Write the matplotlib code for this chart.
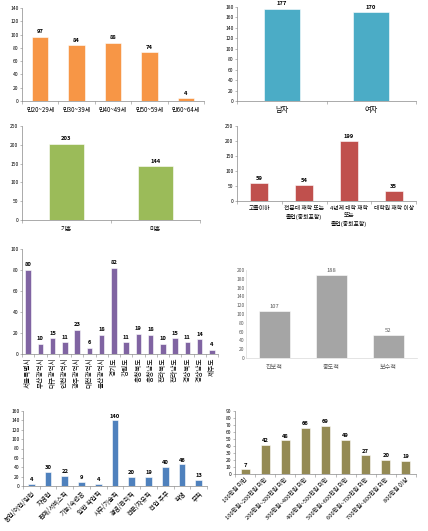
import matplotlib
matplotlib.use("Agg")
import matplotlib.pyplot as plt
import numpy as np

plt.rcParams['font.family'] = ['Noto Sans CJK KR', 'DejaVu Sans']

# Data
age_labels = ["만20~29세", "만30~39세", "만40~49세", "만50~59세", "만60~64세"]
age_values = [97, 84, 88, 74, 4]

sex_labels = ["남자", "여자"]
sex_values = [177, 170]

marriage_labels = ["기혼", "미혼"]
marriage_values = [203, 144]

edu_labels = ["고졸이하", "전문대 재학 또는\n졸업(중퇴포함)", "4년제 대학 재학\n또는\n졸업(중퇴포함)", "대학원 재학 이상"]
edu_values = [59, 54, 199, 35]

region_labels = ["서울특별시", "부산광역시", "대구광역시", "인천광역시", "광주광역시", "대전광역시",
                 "울산광역시", "경기도", "강원도", "충청북도", "충청남도", "전라북도", "전라남도",
                 "경상북도", "경상남도", "제주도"]
region_values = [80, 10, 15, 11, 23, 6, 18, 82, 11, 19, 18, 10, 15, 11, 14, 4]

ideology_labels = ["진보적", "중도적", "보수적"]
ideology_values = [107, 188, 52]

job_labels = ["농업/어업/임업", "자영업", "판매/서비스직", "기능/숙련공", "일반 작업직", "사무/기술직",
              "경영/관리직", "전문/자유직", "전업 주부", "학생", "무직"]
job_values = [4, 30, 22, 9, 4, 140, 20, 19, 40, 46, 13]

income_labels = ["100만원 미만", "100만원~200만원 미만", "200만원~300만원 미만", "300만원~400만원 미만",
                 "400만원~500만원 미만", "500만원~600만원 미만", "600만원~700만원 미만",
                 "700만원~800만원 미만", "800만원 이상"]
income_values = [7, 42, 48, 66, 69, 49, 27, 20, 19]

W, H = 428, 531
fig = plt.figure(figsize=(W / 100, H / 100), dpi=100)


def make_ax(left, top, right, bottom):
    return fig.add_axes([left / W, 1 - bottom / H, (right - left) / W, (bottom - top) / H])


def bar_panel(ax, labels, values, color, ymax, step, width=0.45, rotation=0, ha="center",
              lab_size=4.4, val_size=4.2, bold=True, txt_color="black", spine_color="#888888",
              pad=3.5):
    x = np.arange(len(values))
    ax.bar(x, values, width=width, color=color, edgecolor="white", linewidth=0.4)
    ax.set_xlim(-0.5, len(values) - 0.5)
    ax.set_ylim(0, ymax)
    ax.set_yticks(np.arange(0, ymax + 1, step))
    ax.tick_params(axis="y", labelsize=3.6, length=1.5, width=0.4, pad=1, colors=spine_color,
                   labelcolor=txt_color)
    ax.set_xticks(np.arange(len(values) + 1) - 0.5)
    ax.set_xticklabels([])
    ax.set_xticks(x, minor=True)
    ax.set_xticklabels(labels, minor=True, fontsize=lab_size, rotation=rotation, ha=ha,
                       rotation_mode="anchor" if rotation not in (0, 90) else "default",
                       color=txt_color, linespacing=1.6)
    ax.tick_params(axis="x", which="major", length=2, width=0.4, colors=spine_color)
    ax.tick_params(axis="x", which="minor", length=0, pad=pad)
    for s in ["top", "right"]:
        ax.spines[s].set_visible(False)
    for s in ["left", "bottom"]:
        ax.spines[s].set_color(spine_color)
        ax.spines[s].set_linewidth(0.5)
    for xi, v in zip(x, values):
        ax.text(xi, v + ymax * 0.025, str(v), ha="center", va="bottom", fontsize=val_size,
                fontweight="bold" if bold else "normal", color=txt_color)


ax1 = make_ax(22, 8, 204, 101)
bar_panel(ax1, age_labels, age_values, "#F79646", 140, 20, width=0.45)

ax2 = make_ax(237, 7, 416, 101)
bar_panel(ax2, sex_labels, sex_values, "#4BACC6", 180, 20, width=0.4, lab_size=5.2)

ax3 = make_ax(22, 126, 200, 220)
bar_panel(ax3, marriage_labels, marriage_values, "#9BBB59", 250, 50, width=0.4)

ax4 = make_ax(237, 126, 416, 201)
bar_panel(ax4, edu_labels, edu_values, "#C0504D", 250, 50, width=0.4, lab_size=4.2)
for t in ax4.get_xticklabels(minor=True):
    t.set_va("top")

ax5 = make_ax(22, 249, 218, 354)
bar_panel(ax5, region_labels, region_values, "#8064A2", 100, 20, width=0.45, rotation=90,
          lab_size=4.8, pad=2.5)

ax6 = make_ax(246, 270, 417, 358)
bar_panel(ax6, ideology_labels, ideology_values, "#A5A5A5", 200, 20, width=0.55,
          lab_size=4.4, bold=False, txt_color="#595959", spine_color="#D9D9D9")
ax6.tick_params(axis="y", length=0)
ax6.tick_params(axis="x", which="major", length=0)

ax7 = make_ax(23, 411, 207, 486)
bar_panel(ax7, job_labels, job_values, "#4F81BD", 160, 20, width=0.4, rotation=45, ha="right",
          lab_size=4.6, pad=2.5)

ax8 = make_ax(235, 411, 416, 474)
bar_panel(ax8, income_labels, income_values, "#948A54", 90, 10, width=0.45, rotation=45,
          ha="right", lab_size=4.2, pad=2.5)

fig.savefig("out.png", dpi=100)
